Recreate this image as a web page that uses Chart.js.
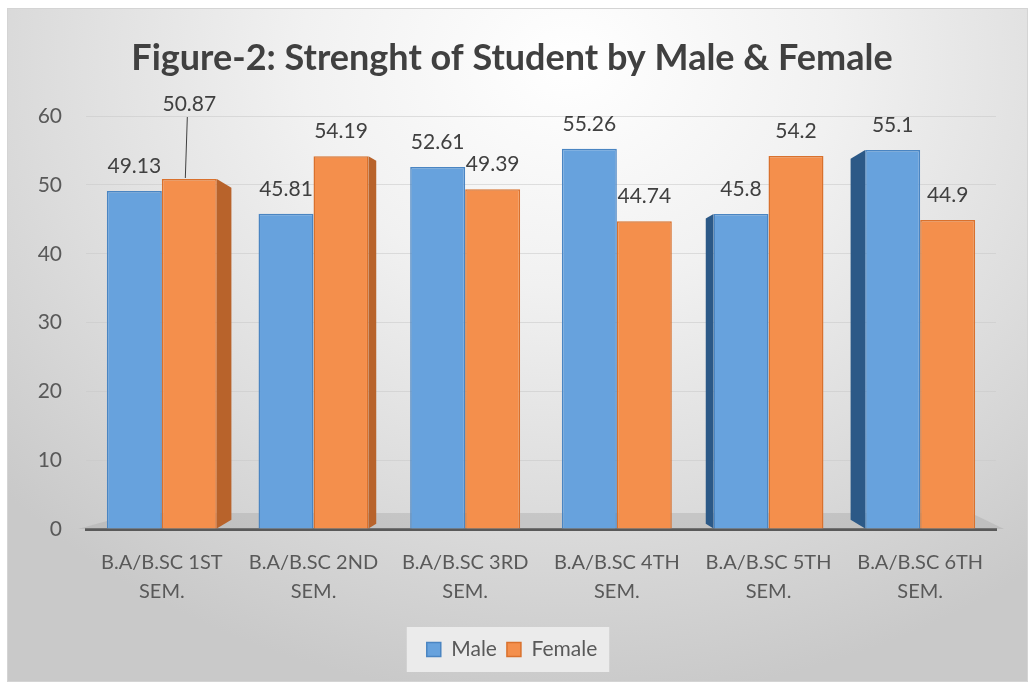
<!DOCTYPE html>
<html>
<head>
<meta charset="utf-8">
<script src="https://cdn.jsdelivr.net/npm/chart.js@4/dist/chart.umd.min.js"></script>
<style>
  html, body { margin: 0; padding: 0; background: #ffffff; }
  #box {
    position: absolute; left: 7px; top: 8px; width: 1019px; height: 672px;
    border: 1px solid #d4d4d4;
    background: radial-gradient(ellipse 75% 95% at 55% 8%, #ffffff 0%, #f1f1f1 35%, #dcdcdc 70%, #c9c9c9 100%);
  }
  #box canvas { display: block; }
</style>
</head>
<body>
<div id="box"><canvas id="canvas_0" width="1019" height="672"></canvas></div>
<script>
var categories = [
    ['B.A/B.SC 1ST', 'SEM.'],
    ['B.A/B.SC 2ND', 'SEM.'],
    ['B.A/B.SC 3RD', 'SEM.'],
    ['B.A/B.SC 4TH', 'SEM.'],
    ['B.A/B.SC 5TH', 'SEM.'],
    ['B.A/B.SC 6TH', 'SEM.']
];
var male = [49.13, 45.81, 52.61, 55.26, 45.8, 55.1];
var female = [50.87, 54.19, 49.39, 44.74, 54.2, 44.9];
var titleText = 'Figure-2: Strenght of Student by Male & Female';

var textColor = '#595959';
var fontName = 'Lato, "Open Sans", sans-serif';

// floor under the bars, drawn before them
var floorPlugin = {
    id: 'floor',
    beforeDatasetsDraw: function (chart) {
        var a = chart.chartArea, ctx = chart.ctx;
        ctx.save();
        ctx.fillStyle = 'rgba(160,160,160,0.35)';
        ctx.beginPath();
        ctx.moveTo(a.left + 50, a.bottom - 16);
        ctx.lineTo(a.right - 25, a.bottom - 16);
        ctx.lineTo(a.right + 8, a.bottom);
        ctx.lineTo(a.left - 8, a.bottom);
        ctx.closePath();
        ctx.fill();
        ctx.restore();
    }
};

// side faces to fake the 3d look, and the value labels
var facePlugin = {
    id: 'faces',
    afterDatasetsDraw: function (chart, args, opts) {
        var ctx = chart.ctx;
        var a = chart.chartArea;
        var cx = (a.left + a.right) / 2;
        var mMeta = chart.getDatasetMeta(0), fMeta = chart.getDatasetMeta(1);
        ctx.save();
        for (var i = 0; i < mMeta.data.length; i++) {
            var m = mMeta.data[i], f = fMeta.data[i];
            var edge, bar, color, dir;
            if (f.x < cx) {
                bar = f; edge = f.x + f.width / 2; color = opts.femaleSide; dir = 1;
            } else {
                bar = m; edge = m.x - m.width / 2; color = opts.maleSide; dir = -1;
            }
            var d = Math.abs(edge - cx) * 0.045;
            if (d < 1) continue;
            var k = d * 0.6;
            ctx.fillStyle = color;
            ctx.beginPath();
            ctx.moveTo(edge, bar.y);
            ctx.lineTo(edge + dir * d, bar.y + k);
            ctx.lineTo(edge + dir * d, bar.base - k);
            ctx.lineTo(edge, bar.base);
            ctx.closePath();
            ctx.fill();
        }
        ctx.font = opts.font;
        ctx.fillStyle = opts.color;
        ctx.textAlign = 'center';
        ctx.textBaseline = 'bottom';
        chart.data.datasets.forEach(function (ds, di) {
            chart.getDatasetMeta(di).data.forEach(function (el, j) {
                var lift = opts.lifts[di + '-' + j] || 0;
                var y = el.y - opts.offset - lift;
                ctx.fillText(ds.data[j], el.x, y);
                if (lift) {
                    ctx.strokeStyle = opts.color;
                    ctx.lineWidth = 1;
                    ctx.beginPath();
                    ctx.moveTo(el.x - 2, y + 2);
                    ctx.lineTo(el.x - 4, el.y - 1);
                    ctx.stroke();
                }
            });
        });
        ctx.restore();
    }
};

// light panel behind the legend
var legendBg = {
    id: 'legendBg',
    beforeDraw: function (chart) {
        var boxes = chart.legend && chart.legend.legendHitBoxes;
        if (!boxes || !boxes.length) return;
        var x0 = Infinity, x1 = -Infinity, y0 = Infinity, y1 = -Infinity;
        boxes.forEach(function (b) {
            x0 = Math.min(x0, b.left); x1 = Math.max(x1, b.left + b.width);
            y0 = Math.min(y0, b.top); y1 = Math.max(y1, b.top + b.height);
        });
        var ctx = chart.ctx;
        ctx.save();
        ctx.fillStyle = 'rgba(236,236,236,0.95)';
        ctx.fillRect(x0 - 20, y0 - 12, x1 - x0 + 32, y1 - y0 + 24);
        ctx.restore();
    }
};

var ctx = document.getElementById('canvas_0');
var myChart = new Chart(ctx, {
    type: 'bar',
    data: {
        labels: categories,
        datasets: [
            { label: 'Male', data: male, backgroundColor: '#67a2dd', borderColor: '#4a85c2', borderWidth: 1.5 },
            { label: 'Female', data: female, backgroundColor: '#f48f4c', borderColor: '#d9712d', borderWidth: 1.5 }
        ]
    },
    plugins: [floorPlugin, facePlugin, legendBg],
    options: {
        responsive: false,
        animation: false,
        datasets: { bar: { categoryPercentage: 0.725, barPercentage: 1 } },
        layout: { padding: { left: 20, right: 31, top: 0, bottom: 11 } },
        scales: {
            x: {
                grid: { display: false, drawTicks: false },
                border: { display: true, color: '#595959', width: 3 },
                ticks: { color: textColor, font: { family: fontName, size: 20, lineHeight: 1.45 }, padding: 19, maxRotation: 0, autoSkip: false },
                afterFit: function (s) { s.height = 100; }
            },
            y: {
                min: 0, max: 60,
                grid: { color: 'rgba(200,200,200,0.55)', drawTicks: false },
                border: { display: false },
                ticks: { stepSize: 10, color: textColor, font: { family: fontName, size: 21 }, padding: 24 },
                afterFit: function (s) { s.width = 58; }
            }
        },
        plugins: {
            title: {
                display: true,
                text: titleText,
                color: '#404040',
                font: { family: fontName, size: 36, weight: 'bold', lineHeight: 1.2 },
                padding: { top: 28, bottom: 36 }
            },
            legend: {
                position: 'bottom',
                labels: { color: textColor, font: { family: fontName, size: 21 }, boxWidth: 14, boxHeight: 14, padding: 10 }
            },
            tooltip: { enabled: false },
            faces: {
                femaleSide: '#b8632b', maleSide: '#2c5987',
                font: '21px Lato, "Open Sans", sans-serif', color: '#404040',
                offset: 14, lifts: { '1-0': 50 }
            }
        }
    }
});
</script>
</body>
</html>
